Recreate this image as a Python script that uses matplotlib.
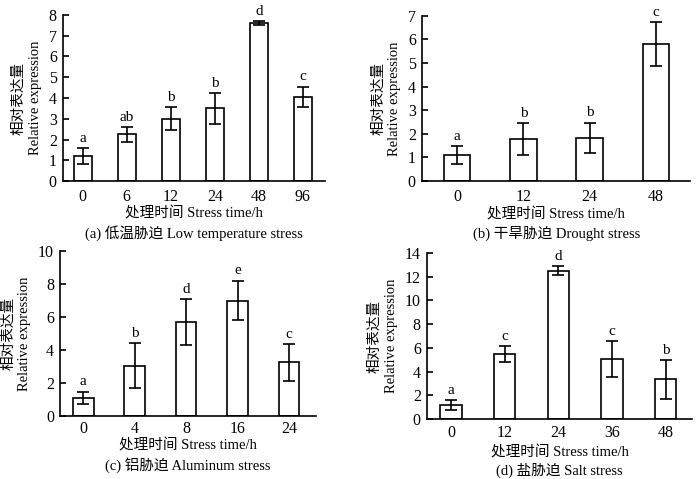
import numpy as np
import matplotlib
matplotlib.use("Agg")
import matplotlib.pyplot as plt

plt.rcParams['font.family'] = ['Liberation Serif', 'Noto Sans CJK SC']
plt.rcParams['font.size'] = 10.5

# (a) low temperature
a_times = ['0', '6', '12', '24', '48', '96']
a_vals = [1.2, 2.25, 3.0, 3.5, 7.6, 4.05]
a_errs = [0.4, 0.35, 0.55, 0.75, 0.1, 0.5]
a_sig = ['a', 'ab', 'b', 'b', 'd', 'c']

# (b) drought
b_times = ['0', '12', '24', '48']
b_vals = [1.1, 1.78, 1.83, 5.8]
b_errs = [0.38, 0.68, 0.65, 0.93]
b_sig = ['a', 'b', 'b', 'c']

# (c) aluminum
c_times = ['0', '4', '8', '16', '24']
c_vals = [1.1, 3.05, 5.7, 7.0, 3.25]
c_errs = [0.38, 1.35, 1.4, 1.2, 1.1]
c_sig = ['a', 'b', 'd', 'e', 'c']

# (d) salt
d_times = ['0', '12', '24', '36', '48']
d_vals = [1.2, 5.5, 12.5, 5.05, 3.35]
d_errs = [0.4, 0.65, 0.4, 1.5, 1.65]
d_sig = ['a', 'c', 'd', 'c', 'b']

captions = ['(a) 低温胁迫 Low temperature stress',
            '(b) 干旱胁迫 Drought stress',
            '(c) 铝胁迫 Aluminum stress',
            '(d) 盐胁迫 Salt stress']

fig = plt.figure(figsize=(7, 4.79), dpi=100)


def panel(rect, times, vals, errs, sig, ymax, ystep, xlim, cap, cap_y, xlab_y, xpad):
    ax = fig.add_axes(rect)
    x = np.arange(len(times))
    ax.bar(x, vals, width=0.4, color='white', edgecolor='black', linewidth=1.2)
    ax.errorbar(x, vals, yerr=errs, fmt='none', ecolor='black',
                elinewidth=1.2, capsize=4, capthick=1.2)
    for xi, v, e, s in zip(x, vals, errs, sig):
        ax.annotate(s, (xi, v + e), xytext=(0, 4.5), textcoords='offset points',
                    ha='center', va='baseline', fontsize=11)
    ax.set_xlim(*xlim)
    ax.set_ylim(0, ymax)
    ax.set_yticks(np.arange(0, ymax + 0.01, ystep))
    ax.set_xticks(x)
    ax.set_xticklabels(times)
    ax.spines['top'].set_visible(False)
    ax.spines['right'].set_visible(False)
    ax.spines['left'].set_linewidth(1.2)
    ax.spines['bottom'].set_linewidth(1.2)
    ax.tick_params(axis='y', direction='in', length=4, width=1.2, pad=4.5,
                   labelsize=11.5)
    ax.tick_params(axis='x', length=0, pad=xpad, labelsize=11.5)
    ax.set_ylabel('相对表达量\nRelative expression', linespacing=1.3, labelpad=5)
    fig.text(rect[0] + rect[2] / 2, xlab_y, '处理时间 Stress time/h',
             ha='center', va='center')
    fig.text(rect[0] + rect[2] / 2, cap_y, cap, ha='center', va='center')
    return ax


panel([0.090, 0.622, 0.374, 0.347], a_times, a_vals, a_errs, a_sig,
      8, 1, (-0.45, 5.5), captions[0], 1 - 233 / 479, 1 - 213 / 479, 5.5)
panel([0.603, 0.622, 0.383, 0.345], b_times, b_vals, b_errs, b_sig,
      7, 1, (-0.53, 3.52), captions[1], 1 - 233 / 479, 1 - 214 / 479, 5.5)
panel([0.086, 0.1315, 0.365, 0.3445], c_times, c_vals, c_errs, c_sig,
      10, 2, (-0.45, 4.52), captions[2], 1 - 465 / 479, 1 - 445 / 479, 3.5)
panel([0.610, 0.125, 0.379, 0.347], d_times, d_vals, d_errs, d_sig,
      14, 2, (-0.45, 4.5), captions[3], 1 - 470 / 479, 1 - 452 / 479, 4.5)

fig.savefig('out.png', dpi=100)
